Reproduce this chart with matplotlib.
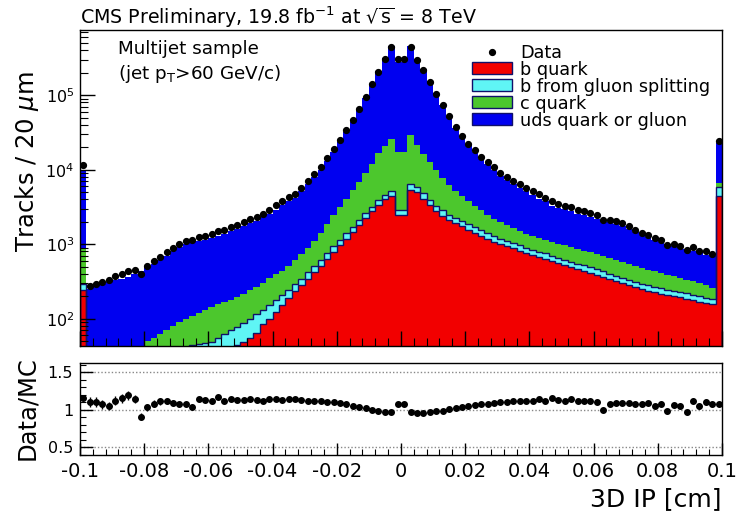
import numpy as np
import matplotlib
matplotlib.use("Agg")
import matplotlib.pyplot as plt
from matplotlib.patches import Rectangle
from matplotlib.lines import Line2D
from matplotlib.ticker import MultipleLocator, LogLocator, NullFormatter, FixedLocator, FixedFormatter

plt.rcParams['font.family'] = ['DejaVu Sans']
plt.rcParams['mathtext.fontset'] = 'dejavusans'

# 3D impact parameter, 100 bins of 20 um between -0.1 and 0.1 cm
ip_range = (-0.1, 0.1)
n_bins = 100

# Stack edges (cumulative simulated track counts per bin)
stack_b = [240, 20, 20, 21, 21, 22, 22, 23, 23, 24,
           24, 25, 25, 26, 26, 27, 28, 29, 30, 31,
           32, 33, 35, 40, 44, 48, 55, 64, 84, 100,
           124, 152, 188, 232, 280, 345, 420, 510, 625, 780,
           960, 1180, 1450, 1800, 2250, 2780, 3400, 4000, 4500, 2450,
           2450, 5300, 5000, 4100, 3350, 2800, 2420, 2120, 1910, 1740,
           1570, 1430, 1300, 1190, 1080, 995, 935, 875, 815, 765,
           715, 675, 635, 595, 555, 525, 495, 465, 440, 415,
           390, 365, 340, 318, 297, 280, 263, 250, 237, 225,
           216, 208, 200, 193, 185, 178, 170, 162, 155, 4500]
stack_b_gsplit = [295, 24, 24, 25, 25, 26, 26, 27, 27, 28,
                  28, 29, 30, 31, 32, 33, 36, 45, 46, 47,
                  49, 55, 62, 70, 78, 88, 100, 115, 132, 152,
                  178, 210, 245, 290, 345, 420, 510, 620, 760, 940,
                  1150, 1400, 1700, 2100, 2600, 3200, 3900, 4600, 5200, 2900,
                  2900, 6500, 5900, 4800, 3950, 3300, 2850, 2500, 2250, 2050,
                  1850, 1680, 1530, 1400, 1270, 1170, 1100, 1030, 960, 900,
                  845, 795, 750, 700, 655, 620, 585, 550, 520, 490,
                  460, 430, 400, 375, 350, 330, 310, 295, 280, 265,
                  255, 245, 237, 228, 218, 210, 200, 192, 184, 5800]
stack_c = [900, 30, 31, 32, 33, 35, 36, 38, 40, 42,
           50, 55, 63, 70, 80, 90, 100, 110, 120, 132,
           143, 155, 168, 180, 193, 215, 240, 270, 305, 350,
           400, 440, 510, 610, 740, 900, 1120, 1420, 1850, 2450,
           3150, 4100, 5300, 6900, 9000, 12000, 16500, 21000, 26000, 17500,
           17500, 29000, 21500, 16000, 12500, 9800, 7800, 6300, 5200, 4400,
           3750, 3250, 2850, 2500, 2200, 1980, 1800, 1640, 1500, 1390,
           1300, 1220, 1150, 1080, 1020, 965, 915, 865, 820, 775,
           730, 690, 650, 610, 575, 540, 510, 480, 455, 430,
           410, 390, 370, 352, 335, 318, 300, 280, 262, 6700]
stack_total = [10000, 252, 268, 290, 315, 330, 345, 365, 400, 440,
               490, 550, 615, 695, 805, 930, 1020, 1090, 1110, 1150,
               1220, 1290, 1380, 1480, 1620, 1740, 1900, 2070, 2300, 2530,
               2900, 3330, 3750, 4200, 5100, 6400, 7900, 9900, 12900, 17300,
               23300, 32000, 44300, 63500, 93000, 140000, 209000, 320000, 454000, 282000,
               282000, 454000, 308000, 226000, 156000, 107000, 73700, 51500, 36800, 27000,
               21300, 17200, 13800, 11760, 9900, 8180, 7220, 6330, 5660, 5160,
               4610, 4080, 3750, 3300, 3080, 2950, 2750, 2580, 2480, 2340,
               2210, 2110, 1990, 1870, 1740, 1600, 1440, 1340, 1230, 1150,
               1060, 1000, 950, 905, 870, 820, 775, 725, 690, 23000]

# Data / MC ratio per bin
ratio = [1.15, 1.10, 1.10, 1.07, 1.05, 1.12, 1.15, 1.19, 1.14, 0.91,
         1.03, 1.08, 1.11, 1.12, 1.09, 1.07, 1.07, 1.04, 1.14, 1.13,
         1.11, 1.17, 1.12, 1.14, 1.13, 1.13, 1.14, 1.13, 1.12, 1.14,
         1.14, 1.13, 1.14, 1.14, 1.13, 1.11, 1.11, 1.11, 1.10, 1.10,
         1.09, 1.07, 1.05, 1.04, 1.02, 1.00, 0.98, 0.97, 0.97, 1.08,
         1.08, 0.97, 0.96, 0.96, 0.97, 0.98, 0.99, 1.01, 1.02, 1.04,
         1.05, 1.06, 1.07, 1.08, 1.09, 1.10, 1.10, 1.11, 1.12, 1.11,
         1.12, 1.14, 1.12, 1.15, 1.13, 1.12, 1.14, 1.12, 1.11, 1.11,
         1.10, 1.00, 1.07, 1.09, 1.09, 1.09, 1.08, 1.07, 1.09, 1.05,
         1.08, 0.98, 1.06, 1.05, 0.97, 1.12, 1.05, 1.10, 1.07, 1.07]

labels = ["Data", "b quark", "b from gluon splitting", "c quark", "uds quark or gluon"]
colors = ["#f20000", "#5ff5f5", "#4cc72d", "#0000f0"]
outline = "#10106a"

edges = np.linspace(ip_range[0], ip_range[1], n_bins + 1)
centers = 0.5 * (edges[:-1] + edges[1:])
lv_b = np.array(stack_b, float)
lv_bg = np.array(stack_b_gsplit, float)
lv_c = np.array(stack_c, float)
lv_all = np.array(stack_total, float)
r = np.array(ratio)
data = lv_all * r
r_err = r / np.sqrt(data)

W, H = 737, 516
fig = plt.figure(figsize=(W / 100, H / 100), dpi=100)
ax = fig.add_axes([0.1085, 0.3295, 0.8711, 0.6124])
ax2 = fig.add_axes([0.1085, 0.1182, 0.8711, 0.1783])

ax.stairs(lv_b, edges, baseline=1.0, fill=True, color=colors[0], lw=0)
ax.stairs(lv_bg, edges, baseline=lv_b, fill=True, color=colors[1], lw=0)
ax.stairs(lv_c, edges, baseline=lv_bg, fill=True, color=colors[2], lw=0)
ax.stairs(lv_all, edges, baseline=lv_c, fill=True, color=colors[3], lw=0)
ax.stairs(lv_b, edges, color=outline, lw=1.0)
ax.stairs(lv_bg, edges, color=outline, lw=1.0)
ax.plot(centers, data, 'o', color='black', ms=4.2, zorder=5)

ax.set_yscale('log')
ax.set_xlim(*ip_range)
ax.set_ylim(43, 7.5e5)
ax.xaxis.set_major_locator(MultipleLocator(0.02))
ax.xaxis.set_minor_locator(MultipleLocator(0.004))
ax.yaxis.set_major_locator(LogLocator(base=10, numticks=10))
ax.yaxis.set_minor_locator(LogLocator(base=10, subs=np.arange(2, 10), numticks=20))
ax.yaxis.set_minor_formatter(NullFormatter())
ax.tick_params(which='both', direction='in', top=False, right=False, labelbottom=False)
ax.tick_params(which='major', length=11, width=1, labelsize=11.5, pad=4)
ax.tick_params(which='minor', length=5.5, width=0.8)
for s in ax.spines.values():
    s.set_linewidth(1.0)


def fx(px):
    return px / W


def fy(py):
    return 1 - py / H


# Legend, drawn entry by entry
row_y = [51.5, 68, 85, 102, 119]
fig.add_artist(Line2D([fx(492)], [fy(row_y[0])], marker='o', ls='none', color='black',
                      ms=4.2, transform=fig.transFigure))
for yy, c in zip(row_y[1:], colors):
    fig.add_artist(Rectangle((fx(472), fy(yy + 6)), fx(512) - fx(472), 12 / H,
                             facecolor=c, edgecolor=outline, lw=1.0,
                             transform=fig.transFigure))
for yy, lab in zip(row_y, labels):
    fig.text(fx(520), fy(yy), lab, fontsize=12.7, va='center_baseline', ha='left')

fig.text(fx(118), fy(47), "Multijet sample", fontsize=13.2, va='center_baseline', ha='left')
fig.text(fx(118), fy(71), r"(jet p$_{\mathrm{T}}$>60 GeV/c)", fontsize=13.2,
         va='center_baseline', ha='left')
fig.text(fx(80), fy(14), r"CMS Preliminary, 19.8 fb$^{\mathrm{-1}}$ at $\sqrt{\mathrm{s}}$ = 8 TeV",
         fontsize=13.7, va='center_baseline', ha='left')
fig.text(fx(27), fy(162), r"Tracks / 20 $\mu$m", fontsize=17.5, rotation=90,
         va='center', ha='center')

# Ratio panel
for yv in (0.5, 1.0, 1.5):
    ax2.axhline(yv, color='#888888', ls=(0, (1, 1.5)), lw=1.0, zorder=1)
ax2.errorbar(centers, r, yerr=r_err, fmt='o', color='black', ms=4.0, elinewidth=1.0,
             capsize=0, zorder=3)
ax2.set_xlim(*ip_range)
ax2.set_ylim(0.40, 1.62)
ax2.yaxis.set_major_locator(FixedLocator([0.5, 1.0, 1.5]))
ax2.yaxis.set_major_formatter(FixedFormatter(["0.5", "1", "1.5"]))
ax2.yaxis.set_minor_locator(MultipleLocator(0.1))
xt = np.arange(-0.1, 0.1001, 0.02)
ax2.set_xticks(xt)
ax2.set_xticklabels(["%g" % round(v, 2) for v in xt])
ax2.xaxis.set_minor_locator(MultipleLocator(0.004))
ax2.tick_params(which='both', direction='in', top=False, right=False)
ax2.tick_params(which='major', length=9, width=1, pad=5)
ax2.tick_params(which='minor', length=4.5, width=0.8)
ax2.tick_params(axis='x', labelsize=14)
ax2.tick_params(axis='y', labelsize=11.5)
for s in ax2.spines.values():
    s.set_linewidth(1.0)

fig.text(fx(27), fy(408), "Data/MC", fontsize=17.5, rotation=90, va='center', ha='center')
fig.text(fx(722), fy(497), "3D IP [cm]", fontsize=18, va='center_baseline', ha='right')

fig.savefig("out.png", dpi=100)
